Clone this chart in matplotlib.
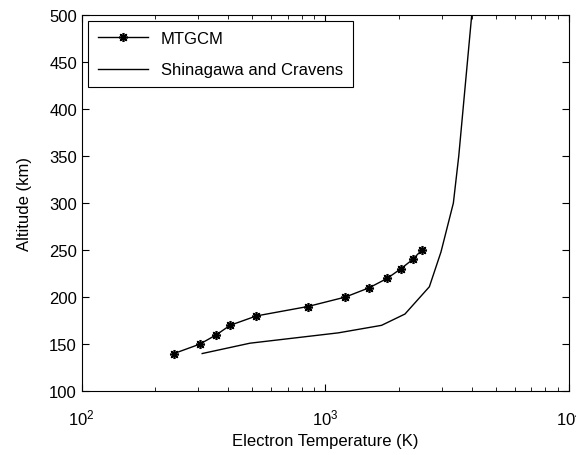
import matplotlib
matplotlib.use("Agg")
import matplotlib.pyplot as plt

plt.rcParams['font.family'] = ['Liberation Sans', 'DejaVu Sans']

# MTGCM model profile
mtgcm_alt = [140, 150, 160, 170, 180, 190, 200, 210, 220, 230, 240, 250]
mtgcm_te = [239, 305, 357, 406, 521, 847, 1205, 1514, 1795, 2036, 2281, 2483]

# Shinagawa and Cravens profile
sc_alt = [140, 151, 162, 170, 182, 211, 248, 300, 350, 500]
sc_te = [312, 490, 1130, 1700, 2120, 2670, 2980, 3350, 3525, 3985]

fig = plt.figure(figsize=(5.76, 4.56), dpi=100)
ax = fig.add_axes([0.142, 0.140, 0.846, 0.825])

ax.plot(mtgcm_te, mtgcm_alt, color='black', lw=1.0, marker=(8, 2, 0),
        markersize=6.5, markeredgewidth=1.2, label='MTGCM')
ax.plot(sc_te, sc_alt, color='black', lw=1.0, label='Shinagawa and Cravens')

ax.set_xscale('log')
ax.set_xlim(100, 10000)
ax.set_ylim(100, 500)
ax.set_yticks(range(100, 501, 50))
ax.tick_params(which='both', direction='in', top=True, right=True, labelsize=12)
ax.tick_params(axis='x', which='major', pad=12)
ax.tick_params(which='major', length=5)
ax.tick_params(which='minor', length=3)

ax.set_xlabel('Electron Temperature (K)', fontsize=12, labelpad=4)
ax.set_ylabel('Altitude (km)', fontsize=12, labelpad=12)

leg = ax.legend(loc='upper left', fancybox=False, edgecolor='black',
                framealpha=1, fontsize=12, handlelength=3.0,
                borderaxespad=0.35, labelspacing=1.0, borderpad=0.6)
leg.get_frame().set_linewidth(0.8)

fig.savefig('out.png', dpi=100)
